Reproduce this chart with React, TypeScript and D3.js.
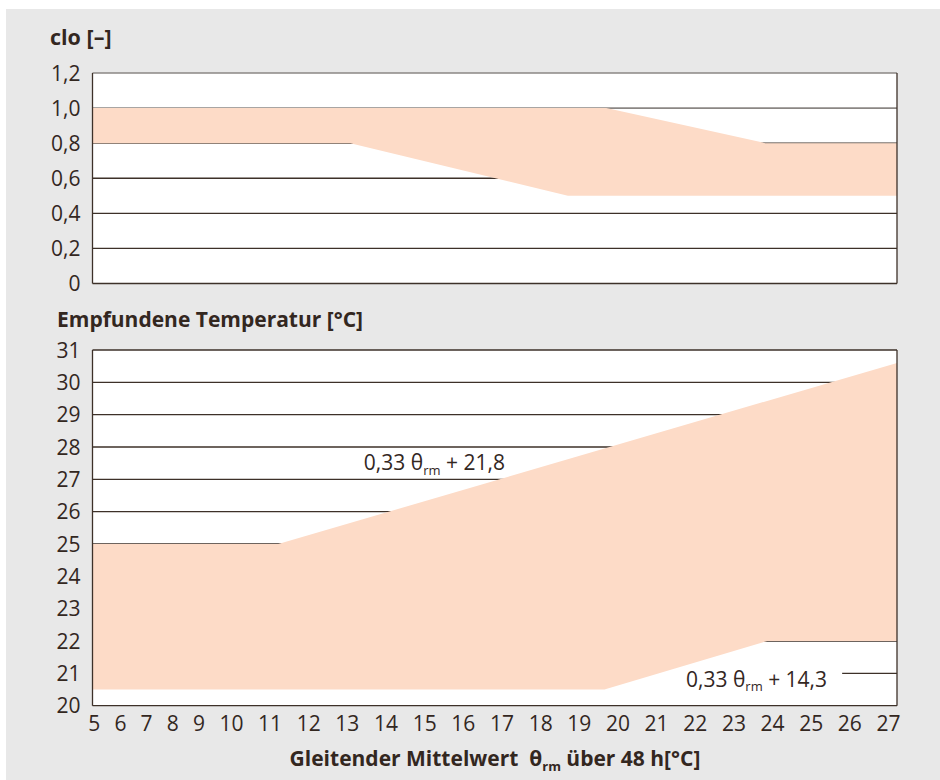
import React from "react";
import * as d3 from "d3";

// ---- data ----
const xDomain = [5, 27];
const xTickLabels = ["5","6","7","8","9","10","11","12","13","14","15","16","17","18","19","20","21","22","23","24","25","26","27"];

const cloTicks = [0, 0.2, 0.4, 0.6, 0.8, 1.0, 1.2];
const cloTickLabels = ["0", "0,2", "0,4", "0,6", "0,8", "1,0", "1,2"];
const cloUpper = [
  { t: 5, v: 1.0 },
  { t: 19.05, v: 1.0 },
  { t: 23.4, v: 0.8 },
  { t: 27, v: 0.8 },
];
const cloLower = [
  { t: 5, v: 0.8 },
  { t: 12.05, v: 0.8 },
  { t: 18, v: 0.5 },
  { t: 27, v: 0.5 },
];

const tempTicks = [20, 21, 22, 23, 24, 25, 26, 27, 28, 29, 30, 31];
const tempUpper = [
  { t: 5, v: 25 },
  { t: 10.08, v: 25 },
  { t: 27, v: 30.6 },
];
const tempLower = [
  { t: 5, v: 20.5 },
  { t: 19, v: 20.5 },
  { t: 23.45, v: 22 },
  { t: 27, v: 22 },
];

const TEXT = "#33271f";
const DARK = "#3d3129";
const GREY_LINE = "#8b8784";
const FILL = "#fddbc7";
const BG = "#e8e8e8";
const FONT = "'Open Sans', 'Noto Sans', sans-serif";

export default function App() {
  const W = 940;
  const H = 780;
  const x = d3.scaleLinear().domain(xDomain).range([92.5, 897]);
  const yClo = d3.scaleLinear().domain([0, 1.2]).range([283.5, 73]);
  const yTemp = d3.scaleLinear().domain([20, 31]).range([705.7, 350]);

  const bandPath = (upper, lower, y) => {
    const pts = [...upper, ...[...lower].reverse()];
    const line = d3
      .line()
      .x((d) => x(d.t))
      .y((d) => y(d.v));
    return line(pts) + "Z";
  };

  // typeset-like layout of x tick labels (in character units)
  const gapUnits = 1.1;
  let acc = 0;
  const labelUnits = xTickLabels.map((s, i) => {
    const start = acc;
    acc += s.length + (i < xTickLabels.length - 1 ? gapUnits : 0);
    return start + s.length / 2;
  });
  const xLabelScale = d3
    .scaleLinear()
    .domain([0, acc])
    .range([x.range()[0] - 4.5, x.range()[1] + 4]);

  const [x0, x1] = x.range();
  const TICK_FS = 21;

  const sub = (t) => (
    <tspan fontSize={13} dy={4.5}>{t}</tspan>
  );

  return (
    <svg
      width={W}
      height={H}
      style={{ position: "absolute", left: 0, top: 0, fontFamily: FONT }}
    >
      <rect x={0} y={0} width={W} height={H} fill="#ffffff" />
      <rect x={6} y={9} width={W - 6} height={H - 9} fill={BG} />

      {/* ---------- top chart: clo ---------- */}
      <text x={50} y={45} fontSize={21.5} fontWeight="bold" fill={TEXT}>
        clo [–]
      </text>
      <rect
        x={x0}
        y={yClo(1.2)}
        width={x1 - x0}
        height={yClo(0) - yClo(1.2)}
        fill="#ffffff"
      />
      {cloTicks.map((t, i) => (
        <line
          key={"cg" + i}
          x1={x0}
          x2={x1}
          y1={yClo(t)}
          y2={yClo(t)}
          stroke={t >= 1 ? GREY_LINE : DARK}
          strokeWidth={t >= 1 ? 1.6 : 1.3}
        />
      ))}
      <path d={bandPath(cloUpper, cloLower, yClo)} fill={FILL} />
      <line x1={x0} x2={x0} y1={yClo(1.2)} y2={yClo(0)} stroke={DARK} strokeWidth={1.3} />
      <line x1={x1} x2={x1} y1={yClo(1.2)} y2={yClo(0)} stroke={DARK} strokeWidth={1.3} />
      {cloTicks.map((t, i) => (
        <text
          key={"cl" + i}
          x={80.5}
          y={yClo(t)}
          dy="0.36em"
          textAnchor="end"
          fontSize={TICK_FS}
          fill={TEXT}
        >
          {cloTickLabels[i]}
        </text>
      ))}

      {/* ---------- bottom chart: temperature ---------- */}
      <text x={57} y={327} fontSize={21} fontWeight="bold" fill={TEXT}>
        Empfundene Temperatur [°C]
      </text>
      <rect
        x={x0}
        y={yTemp(31)}
        width={x1 - x0}
        height={yTemp(20) - yTemp(31)}
        fill="#ffffff"
      />
      {tempTicks.map((t, i) => (
        <line
          key={"tg" + i}
          x1={x0}
          x2={x1}
          y1={yTemp(t)}
          y2={yTemp(t)}
          stroke={DARK}
          strokeWidth={1.3}
        />
      ))}
      {/* white background behind the lower formula */}
      <rect
        x={x(19.2)}
        y={yTemp(21.3)}
        width={x(25.5) - x(19.2)}
        height={yTemp(20.2) - yTemp(21.3)}
        fill="#ffffff"
      />
      <path d={bandPath(tempUpper, tempLower, yTemp)} fill={FILL} />
      <line x1={x0} x2={x0} y1={yTemp(31)} y2={yTemp(20)} stroke={DARK} strokeWidth={1.3} />
      <line x1={x1} x2={x1} y1={yTemp(31)} y2={yTemp(20)} stroke={DARK} strokeWidth={1.3} />
      {tempTicks.map((t, i) => (
        <text
          key={"tl" + i}
          x={80.5}
          y={yTemp(t)}
          dy="0.36em"
          textAnchor="end"
          fontSize={TICK_FS}
          fill={TEXT}
        >
          {String(t)}
        </text>
      ))}

      {/* formula annotations */}
      <text x={x(12.42)} y={yTemp(27.5) + 7} fontSize={21} fill={TEXT}>
        0,33 θ{sub("rm")}
        <tspan dy={-4.5}> + 21,8</tspan>
      </text>
      <text x={x(21.23)} y={yTemp(21) + 13.5} fontSize={21} fill={TEXT}>
        0,33 θ{sub("rm")}
        <tspan dy={-4.5}> + 14,3</tspan>
      </text>

      {/* x tick labels */}
      {xTickLabels.map((s, i) => (
        <text
          key={"xl" + i}
          x={xLabelScale(labelUnits[i])}
          y={731}
          textAnchor="middle"
          fontSize={TICK_FS}
          fill={TEXT}
        >
          {s}
        </text>
      ))}

      {/* x axis title */}
      <text x={495} y={766} textAnchor="middle" fontSize={21} fontWeight="bold" fill={TEXT}>
        Gleitender Mittelwert{"\u00a0\u00a0"}θ
        <tspan fontSize={13} dy={4.5}>rm</tspan>
        <tspan dy={-4.5}> über 48 h[°C]</tspan>
      </text>
    </svg>
  );
}
